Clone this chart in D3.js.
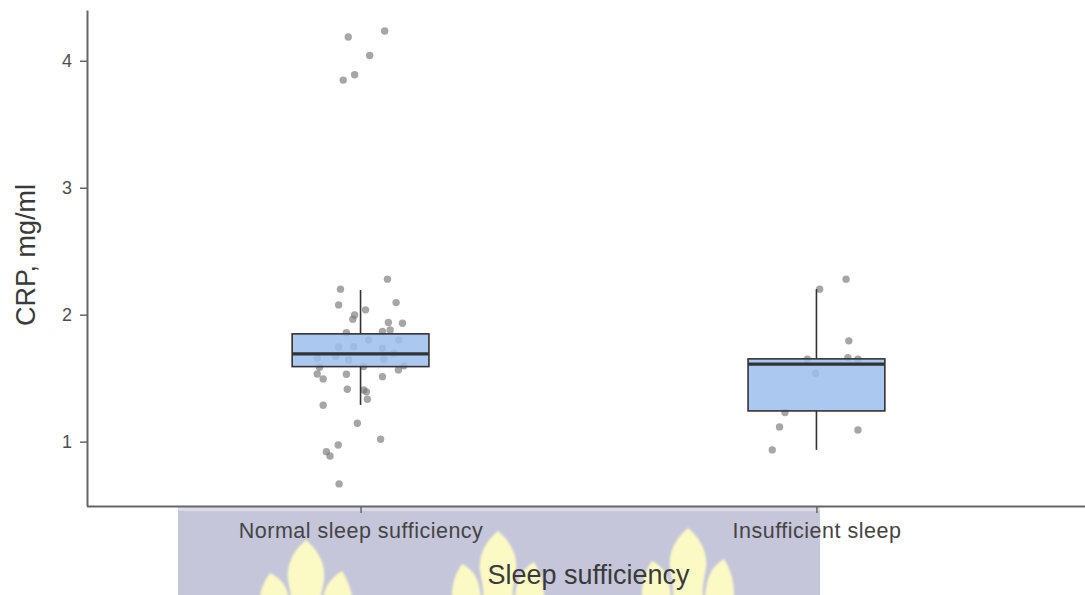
<!DOCTYPE html>
<html>
<head>
<meta charset="utf-8">
<script src="https://cdn.jsdelivr.net/npm/d3@7"></script>
<style>
  html, body { margin: 0; padding: 0; background: #ffffff; }
  svg { display: block; }
  text { font-family: "Liberation Sans", Arial, sans-serif; }
</style>
</head>
<body>
<svg id="chart" width="1085" height="595"></svg>
<script>
// ---- data ----
const categories = ["Normal sleep sufficiency", "Insufficient sleep"];

// Box summaries per group: lower whisker, Q1, median, Q3, upper whisker (mg/ml)
const whiskerLow  = [1.289, 0.935];
const q1          = [1.591, 1.242];
const medians     = [1.691, 1.610];
const q3          = [1.849, 1.652];
const whiskerHigh = [2.195, 2.201];

// Individual CRP observations with their horizontal jitter (in category units)
const normalCRP = [4.187, 4.234, 4.042, 3.890, 3.848, 2.280, 2.201, 2.095, 2.077, 2.038,
                   1.998, 1.965, 1.938, 1.933, 1.880, 1.867, 1.859, 1.801, 1.801, 1.746,
                   1.749, 1.736, 1.697, 1.657, 1.670, 1.644, 1.649, 1.597, 1.591, 1.586,
                   1.533, 1.494, 1.531, 1.512, 1.565, 1.413, 1.407, 1.392, 1.334, 1.287,
                   1.145, 1.019, 0.974, 0.921, 0.887, 0.667];
const normalJitter = [-0.027, 0.053, 0.020, -0.013, -0.038, 0.059, -0.044, 0.078, -0.048, 0.011,
                      -0.013, -0.017, 0.061, 0.092, 0.065, 0.048, -0.031, 0.018, 0.084, -0.048,
                      -0.015, 0.048, 0.073, -0.095, -0.055, -0.026, 0.051, 0.095, 0.007, -0.090,
                      -0.095, -0.082, -0.031, 0.048, 0.083, -0.029, 0.007, 0.013, 0.015, -0.082,
                      -0.007, 0.044, -0.049, -0.075, -0.067, -0.047];
const insufficientCRP = [2.280, 2.201, 1.794, 1.649, 1.662, 1.649, 1.539, 1.229, 1.116, 1.092, 0.935];
const insufficientJitter = [0.065, 0.007, 0.071, -0.020, 0.069, 0.091, -0.002, -0.069, -0.081, 0.091, -0.097];

const yTicks = [1, 2, 3, 4];
const xTitle = "Sleep sufficiency";
const yTitle = "CRP, mg/ml";

// ---- layout ----
const svg = d3.select("#chart");
const panel = { left: 87, right: 1090, top: 10, bottom: 506 };

// discrete positions 1..n with 0.6 expansion on both sides
const x = d3.scaleLinear().domain([0.4, 2.6]).range([panel.left, panel.right]);
const y = d3.scaleLinear().domain([0.493, 4.40]).range([panel.bottom, panel.top]);
const boxHalf = 0.15;

// ---- background emblem below the axis ----
const emblem = svg.append("g");
const defs = svg.append("defs");
defs.append("filter").attr("id", "soft")
  .append("feGaussianBlur").attr("stdDeviation", 1.2);

emblem.append("rect")
  .attr("x", 178).attr("y", 509).attr("width", 642).attr("height", 90)
  .attr("fill", "#c5c6da");
emblem.append("rect")
  .attr("x", 178).attr("y", 507).attr("width", 642).attr("height", 4)
  .attr("fill", "#dcdce8");

const flames = [[306, 540], [498, 531], [688, 528]];
function flamePath(cx, ty) {
  const p = d3.path();
  // centre lobe: pointed tip, bulging body
  p.moveTo(cx, ty);
  p.bezierCurveTo(cx + 12, ty + 10, cx + 20, ty + 24, cx + 18, ty + 40);
  p.bezierCurveTo(cx + 16, ty + 52, cx + 14, ty + 58, cx + 15, 600);
  p.lineTo(cx - 15, 600);
  p.bezierCurveTo(cx - 14, ty + 58, cx - 16, ty + 52, cx - 18, ty + 40);
  p.bezierCurveTo(cx - 20, ty + 24, cx - 12, ty + 10, cx, ty);
  p.closePath();
  // left lobe
  p.moveTo(cx - 36, ty + 33);
  p.bezierCurveTo(cx - 26, ty + 38, cx - 18, ty + 46, cx - 17, 600);
  p.lineTo(cx - 46, 600);
  p.bezierCurveTo(cx - 47, ty + 54, cx - 42, ty + 41, cx - 36, ty + 33);
  p.closePath();
  // right lobe
  p.moveTo(cx + 36, ty + 31);
  p.bezierCurveTo(cx + 42, ty + 40, cx + 47, ty + 54, cx + 46, 600);
  p.lineTo(cx + 17, 600);
  p.bezierCurveTo(cx + 18, ty + 46, cx + 26, ty + 37, cx + 36, ty + 31);
  p.closePath();
  return p.toString();
}
emblem.selectAll("path.flame").data(flames).join("path")
  .attr("class", "flame")
  .attr("d", d => flamePath(d[0], d[1]))
  .attr("fill", "#fbfac4")
  .attr("filter", "url(#soft)");

// ---- jittered observations (under the boxes) ----
const points = [];
normalCRP.forEach((v, i) => points.push({ g: 1, v, j: normalJitter[i] }));
insufficientCRP.forEach((v, i) => points.push({ g: 2, v, j: insufficientJitter[i] }));

svg.append("g").selectAll("circle").data(points).join("circle")
  .attr("cx", d => x(d.g + d.j))
  .attr("cy", d => y(d.v))
  .attr("r", 3.7)
  .attr("fill", "#777")
  .attr("fill-opacity", 0.65);

// ---- boxes ----
const boxes = categories.map((c, i) => ({
  g: i + 1, lo: whiskerLow[i], q1: q1[i], med: medians[i], q3: q3[i], hi: whiskerHigh[i]
}));
const bg = svg.append("g").selectAll("g").data(boxes).join("g");
bg.append("line")
  .attr("x1", d => x(d.g)).attr("x2", d => x(d.g))
  .attr("y1", d => y(d.q3)).attr("y2", d => y(d.hi))
  .attr("stroke", "#333").attr("stroke-width", 1.6);
bg.append("line")
  .attr("x1", d => x(d.g)).attr("x2", d => x(d.g))
  .attr("y1", d => y(d.q1)).attr("y2", d => y(d.lo))
  .attr("stroke", "#333").attr("stroke-width", 1.6);
bg.append("rect")
  .attr("x", d => x(d.g - boxHalf))
  .attr("width", d => x(d.g + boxHalf) - x(d.g - boxHalf))
  .attr("y", d => y(d.q3))
  .attr("height", d => y(d.q1) - y(d.q3))
  .attr("fill", "#9bbeed").attr("fill-opacity", 0.85)
  .attr("stroke", "#333").attr("stroke-width", 1.6);
bg.append("line")
  .attr("x1", d => x(d.g - boxHalf)).attr("x2", d => x(d.g + boxHalf))
  .attr("y1", d => y(d.med)).attr("y2", d => y(d.med))
  .attr("stroke", "#333").attr("stroke-width", 3.2);

// ---- axes ----
const yAxis = svg.append("g")
  .attr("transform", `translate(${panel.left},0)`)
  .call(d3.axisLeft(y).tickValues(yTicks).tickFormat(d3.format("d"))
    .tickSize(7).tickPadding(8).tickSizeOuter(0));
yAxis.select(".domain").attr("stroke", "#666").attr("stroke-width", 2);
yAxis.selectAll(".tick line").attr("stroke", "#666").attr("stroke-width", 1.5);
yAxis.selectAll(".tick text")
  .attr("font-size", 18).attr("fill", "#4d4d4d")
  .attr("font-family", "Liberation Sans, Arial, sans-serif");

const xAxis = svg.append("g")
  .attr("transform", `translate(0,${panel.bottom})`)
  .call(d3.axisBottom(x).tickValues([1, 2]).tickFormat(d => categories[d - 1])
    .tickSize(7).tickPadding(10).tickSizeOuter(0));
xAxis.select(".domain").attr("d", `M${panel.left},0.5H1085`)
  .attr("stroke", "#666").attr("stroke-width", 2);
xAxis.selectAll(".tick line").attr("stroke", "#666").attr("stroke-width", 1.5);
xAxis.selectAll(".tick text")
  .attr("font-size", 21.5).attr("fill", "#444")
  .attr("letter-spacing", 0.5)
  .attr("font-family", "Liberation Sans, Arial, sans-serif");

// ---- titles ----
svg.append("text")
  .attr("x", (panel.left + panel.right) / 2).attr("y", 584)
  .attr("text-anchor", "middle")
  .attr("font-size", 27).attr("fill", "#3a3a3a")
  .text(xTitle);

svg.append("text")
  .attr("transform", `translate(35,${(panel.top + panel.bottom) / 2 - 3}) rotate(-90)`)
  .attr("text-anchor", "middle")
  .attr("font-size", 27).attr("fill", "#3a3a3a")
  .text(yTitle);
</script>
</body>
</html>
